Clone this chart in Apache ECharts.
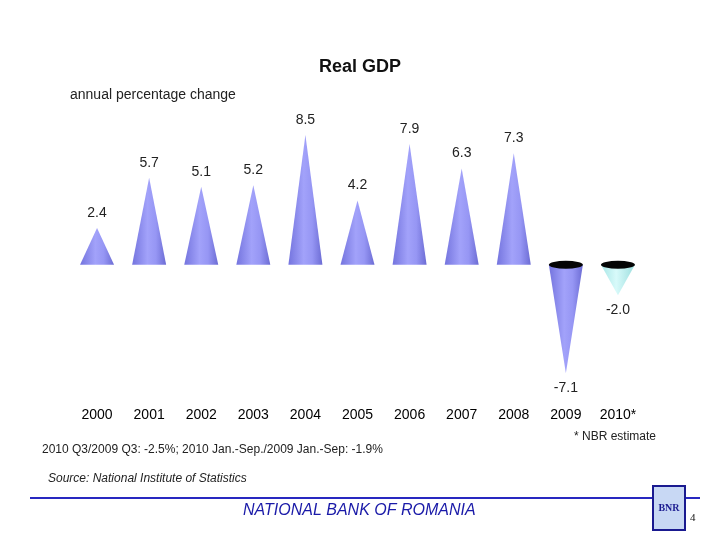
<!DOCTYPE html>
<html><head><meta charset="utf-8">
<script src="https://cdn.jsdelivr.net/npm/echarts@6/dist/echarts.min.js"></script>
<style>html,body{margin:0;padding:0;background:#fff}#c{width:720px;height:540px}</style>
</head><body><div id="c"></div>
<script>
const categories = ['2000','2001','2002','2003','2004','2005','2006','2007','2008','2009','2010*'];
const gdpGrowth = [2.4, 5.7, 5.1, 5.2, 8.5, 4.2, 7.9, 6.3, 7.3, -7.1, -2.0];
const estimateFlags = [false,false,false,false,false,false,false,false,false,false,true];

const chart = echarts.init(document.getElementById('c'));
const blueGrad = new echarts.graphic.LinearGradient(0,0,1,0,[
  {offset:0,color:'#7474de'},{offset:0.45,color:'#a2a2fa'},{offset:0.7,color:'#9696f4'},{offset:1,color:'#6c6cd4'}]);
const cyanGrad = new echarts.graphic.LinearGradient(0,0,1,0,[
  {offset:0,color:'#a8e6e6'},{offset:0.45,color:'#d8fafa'},{offset:1,color:'#9cdede'}]);
const conePath = 'path://M1,0L2,2L0,2Z';

const barData = gdpGrowth.map((v,i)=>({
  value: v,
  itemStyle: {color: estimateFlags[i] ? cyanGrad : blueGrad},
  label: {position: v >= 0 ? 'top' : 'bottom'}
}));
const capData = gdpGrowth.map((v,i)=> v < 0 ? [categories[i], 0] : null).filter(d=>d);

chart.setOption({
  animation:false,
  backgroundColor:'#fff',
  textStyle:{fontFamily:'Liberation Sans, Arial, sans-serif'},
  grid:{left:71,right:76,top:112,bottom:153},
  xAxis:{type:'category',data:categories,
    axisLine:{show:false,onZero:false},axisTick:{show:false},
    axisLabel:{fontSize:14,color:'#000',margin:21,fontFamily:'Liberation Sans, Arial, sans-serif'}},
  yAxis:{type:'value',min:-8,max:10,show:false,splitLine:{show:false}},
  series:[
    {type:'pictorialBar',data:barData,symbol:conePath,symbolSize:[34,'100%'],barCategoryGap:'20%',z:2,
     label:{show:true,fontSize:14,color:'#222',distance:8,formatter:p=>p.value.toFixed(1)}},
    {type:'scatter',data:capData,symbol:'circle',symbolSize:[34,8],z:3,
     itemStyle:{color:'#050505',opacity:1}}
  ],
  graphic:[
    {type:'text',left:'center',top:58,style:{text:'Real GDP',font:'bold 18px Liberation Sans, Arial',fill:'#111'}},
    {type:'text',left:70,top:88,style:{text:'annual percentage change',font:'14px Liberation Sans, Arial',fill:'#222'}},
    {type:'text',right:64,top:431,style:{text:'* NBR estimate',font:'12px Liberation Sans, Arial',fill:'#222'}},
    {type:'text',left:42,top:444,style:{text:'2010 Q3/2009 Q3: -2.5%; 2010 Jan.-Sep./2009 Jan.-Sep: -1.9%',font:'12px Liberation Sans, Arial',fill:'#222'}},
    {type:'text',left:48,top:473,style:{text:'Source: National Institute of Statistics',font:'italic 12px Liberation Sans, Arial',fill:'#222'}},
    {type:'line',shape:{x1:30,y1:498,x2:700,y2:498},style:{stroke:'#2828c0',lineWidth:2}},
    {type:'text',left:243,top:503,style:{text:'NATIONAL BANK OF ROMANIA',font:'italic 16px Liberation Sans, Arial',fill:'#1a1aa8'}},
    {type:'rect',shape:{x:653,y:486,width:32,height:44},style:{fill:'#c8d8f4',stroke:'#1a1a90',lineWidth:2}},
    {type:'text',x:669,y:508,style:{text:'BNR',font:'bold 10px Liberation Serif, serif',fill:'#1a1a90',align:'center',verticalAlign:'middle'}},
    {type:'text',x:690,y:513,style:{text:'4',font:'11px Liberation Serif, serif',fill:'#111'}}
  ]
});
</script></body></html>
